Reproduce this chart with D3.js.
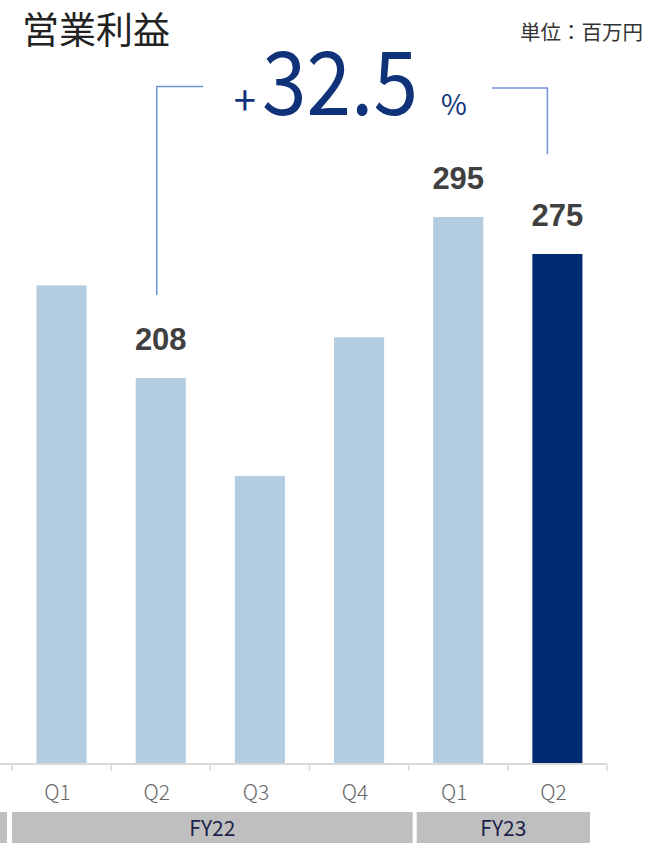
<!DOCTYPE html>
<html>
<head>
<meta charset="utf-8">
<script src="https://cdn.jsdelivr.net/npm/d3@7"></script>
<style>
  body { margin: 0; background: #fff; }
  svg { display: block; }
</style>
</head>
<body>
<div class="graph"></div>
<script>
// data
let quarters = ["Q1", "Q2", "Q3", "Q4", "Q1", "Q2"];
let values = [258, 208, 155, 230, 295, 275];
let showLabel = [false, true, false, false, true, true];
let groups = [
  { name: "FY22", from: 0, to: 3 },
  { name: "FY23", from: 4, to: 5 }
];
let growthText = "32.5";

let w = 646;
let h = 843;

let svg = d3
  .select(".graph")
  .append("svg")
  .attr("width", w)
  .attr("height", h);

let xScale = d3
  .scaleBand()
  .domain(d3.range(values.length))
  .range([12, 607])
  .paddingInner(0.495)
  .paddingOuter(0.2475);

let yScale = d3.scaleLinear().domain([0, 400]).range([763, 22.6]);

// title and unit
svg
  .append("text")
  .attr("x", 22)
  .attr("y", 44)
  .style("font-family", "'Noto Sans CJK JP'")
  .style("font-size", "37px")
  .style("fill", "#222")
  .text("営業利益");

svg
  .append("text")
  .attr("x", 643)
  .attr("y", 40)
  .attr("text-anchor", "end")
  .style("font-family", "'Noto Sans CJK JP'")
  .style("font-size", "20.5px")
  .style("fill", "#333")
  .text("単位：百万円");

// bars
svg
  .selectAll("rect.bar")
  .data(values)
  .enter()
  .append("rect")
  .attr("class", "bar")
  .attr("x", (d, i) => xScale(i))
  .attr("y", (d) => yScale(d))
  .attr("width", xScale.bandwidth())
  .attr("height", (d) => yScale(0) - yScale(d))
  .attr("fill", (d, i) => (i === values.length - 1 ? "#002b70" : "#b4cce0"));

// value labels
svg
  .selectAll("text.val")
  .data(values.map((v, i) => ({ v: v, i: i })).filter((d) => showLabel[d.i]))
  .enter()
  .append("text")
  .attr("class", "val")
  .attr("x", (d) => xScale(d.i) + xScale.bandwidth() / 2)
  .attr("y", (d) => yScale(d.v) - 28)
  .attr("text-anchor", "middle")
  .style("font-family", "'Liberation Sans', Arial")
  .style("font-weight", "bold")
  .style("font-size", "31px")
  .style("fill", "#404040")
  .text((d) => d.v);

// axis line and ticks
let step = xScale.step();
let left = xScale.range()[0];
svg
  .append("line")
  .attr("x1", 0)
  .attr("x2", xScale.range()[1])
  .attr("y1", yScale(0) + 1)
  .attr("y2", yScale(0) + 1)
  .attr("stroke", "#d9d9d9")
  .attr("stroke-width", 2);

svg
  .selectAll("line.tick")
  .data(d3.range(values.length + 1))
  .enter()
  .append("line")
  .attr("class", "tick")
  .attr("x1", (d) => left + d * step)
  .attr("x2", (d) => left + d * step)
  .attr("y1", yScale(0) + 1)
  .attr("y2", yScale(0) + 8)
  .attr("stroke", "#d9d9d9")
  .attr("stroke-width", 1.5);

svg
  .selectAll("text.q")
  .data(quarters)
  .enter()
  .append("text")
  .attr("class", "q")
  .attr("x", (d, i) => xScale(i) + xScale.bandwidth() / 2 - 4)
  .attr("y", 800)
  .attr("text-anchor", "middle")
  .style("font-family", "'Noto Sans CJK JP'")
  .style("font-weight", 300)
  .style("font-size", "21px")
  .style("fill", "#666")
  .text((d) => d);

// fiscal year bands
svg
  .append("rect")
  .attr("x", 0)
  .attr("y", 812)
  .attr("width", 7)
  .attr("height", 31)
  .attr("fill", "#bfbfbf");

let gx0 = (g) => left + g.from * step + (g.from === 0 ? 0 : 8);
let gx1 = (g) => (g.to === values.length - 1 ? left + (g.to + 1) * step - 17 : left + (g.to + 1) * step + 4);

svg
  .selectAll("rect.fy")
  .data(groups)
  .enter()
  .append("rect")
  .attr("class", "fy")
  .attr("x", gx0)
  .attr("y", 812)
  .attr("width", (g) => gx1(g) - gx0(g))
  .attr("height", 31)
  .attr("fill", "#bfbfbf");

svg
  .selectAll("text.fy")
  .data(groups)
  .enter()
  .append("text")
  .attr("class", "fy")
  .attr("x", (g) => (gx0(g) + gx1(g)) / 2)
  .attr("y", 836)
  .attr("text-anchor", "middle")
  .style("font-family", "'Noto Sans CJK JP'")
  .style("font-size", "21px")
  .style("fill", "#1b1f4a")
  .text((g) => g.name);

// growth bracket
let cx1 = xScale(1) + xScale.bandwidth() / 2;
let cx5 = xScale(5) + xScale.bandwidth() / 2;
svg
  .append("path")
  .attr("d", `M${cx1 - 4},${yScale(values[1]) - 83} V86.5 H203`)
  .attr("fill", "none")
  .attr("stroke", "#6e93d8")
  .attr("stroke-width", 1.5);
svg
  .append("path")
  .attr("d", `M492,88 H${cx5 - 10} V${yScale(values[5]) - 100}`)
  .attr("fill", "none")
  .attr("stroke", "#6e93d8")
  .attr("stroke-width", 1.5);

let growthColor = "#0f3278";
svg
  .append("text")
  .attr("x", 256)
  .attr("y", 115)
  .attr("text-anchor", "end")
  .style("font-family", "'Noto Sans CJK JP'")
  .style("font-size", "40px")
  .style("fill", growthColor)
  .text("+");
svg
  .append("text")
  .attr("x", 262)
  .attr("y", 115)
  .attr("textLength", 156)
  .attr("lengthAdjust", "spacingAndGlyphs")
  .style("font-family", "'Noto Sans CJK JP'")
  .style("font-size", "88px")
  .style("fill", growthColor)
  .text(growthText);
svg
  .append("text")
  .attr("x", 441)
  .attr("y", 115)
  .style("font-family", "'Noto Sans CJK JP'")
  .style("font-size", "28px")
  .style("fill", growthColor)
  .text("%");
</script>
</body>
</html>
